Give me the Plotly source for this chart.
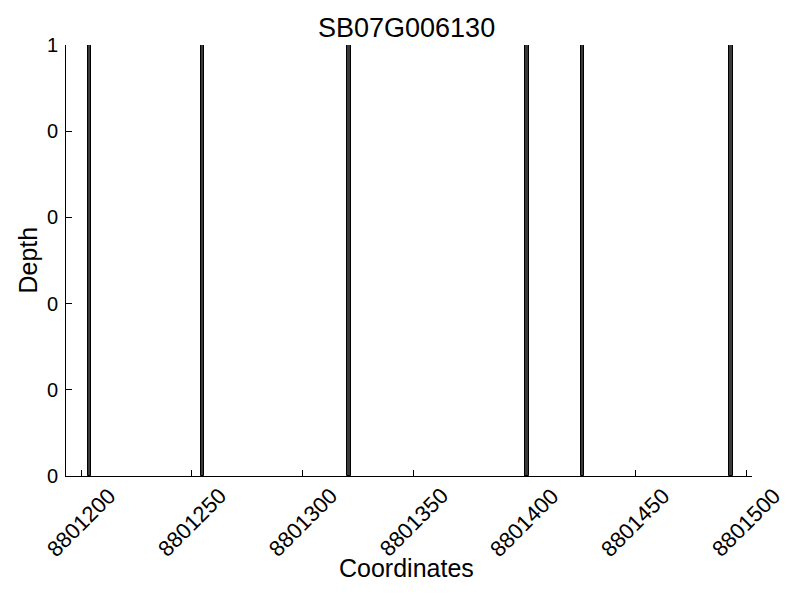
import plotly.graph_objects as go

positions = [8801203.8, 8801254.8, 8801320.8, 8801401.2, 8801426.2, 8801493.3]
depths = [1, 1, 1, 1, 1, 1]
x_ticks = [8801200, 8801250, 8801300, 8801350, 8801400, 8801450, 8801500]
y_ticks = [0, 0.2, 0.4, 0.6, 0.8, 1.0]
y_tick_labels = ["0", "0", "0", "0", "0", "1"]

fig = go.Figure()
fig.add_trace(go.Bar(
    x=positions, y=depths, width=1.6,
    marker=dict(color="#3a3a3a", line=dict(color="black", width=1)),
))

font = "Liberation Sans, Arial, sans-serif"
annotations = [
    dict(text="SB07G006130", xref="paper", yref="paper", x=0.497, y=1,
         yshift=17, xanchor="center", yanchor="middle", showarrow=False,
         font=dict(size=27, family=font, color="black")),
    dict(text="Coordinates", xref="paper", yref="paper", x=0.497, y=0,
         yshift=-92, xanchor="center", yanchor="middle", showarrow=False,
         font=dict(size=25, family=font, color="black")),
    dict(text="Depth", xref="paper", yref="paper", x=0, y=0.5,
         xshift=-39, xanchor="center", yanchor="middle", showarrow=False,
         textangle=-90, font=dict(size=25, family=font, color="black")),
]
for v in x_ticks:
    annotations.append(dict(
        text=str(v), xref="x", yref="paper", x=v, y=0,
        xshift=0, yshift=-4, xanchor="center", yanchor="top", showarrow=False,
        textangle=-45, font=dict(size=22, family=font, color="black")))

fig.update_layout(
    width=800, height=600,
    margin=dict(l=58, r=56, t=37, b=132, autoexpand=False),
    paper_bgcolor="white", plot_bgcolor="white",
    showlegend=False,
    font=dict(family=font, color="black"),
    bargap=0,
    annotations=annotations,
)
fig.update_xaxes(
    range=[8801193.2, 8801502.7],
    tickvals=x_ticks, showticklabels=False,
    ticks="inside", ticklen=6, tickcolor="black",
    showline=True, linecolor="black", linewidth=1,
    showgrid=False, zeroline=False, automargin=False,
)
fig.update_yaxes(
    range=[0, 1],
    tickvals=y_ticks, ticktext=y_tick_labels,
    tickfont=dict(size=20), ticklabelstandoff=3,
    ticks="inside", ticklen=6, tickcolor="black",
    showline=True, linecolor="black", linewidth=1,
    showgrid=False, zeroline=False, automargin=False,
)
fig.write_html("out.html")
